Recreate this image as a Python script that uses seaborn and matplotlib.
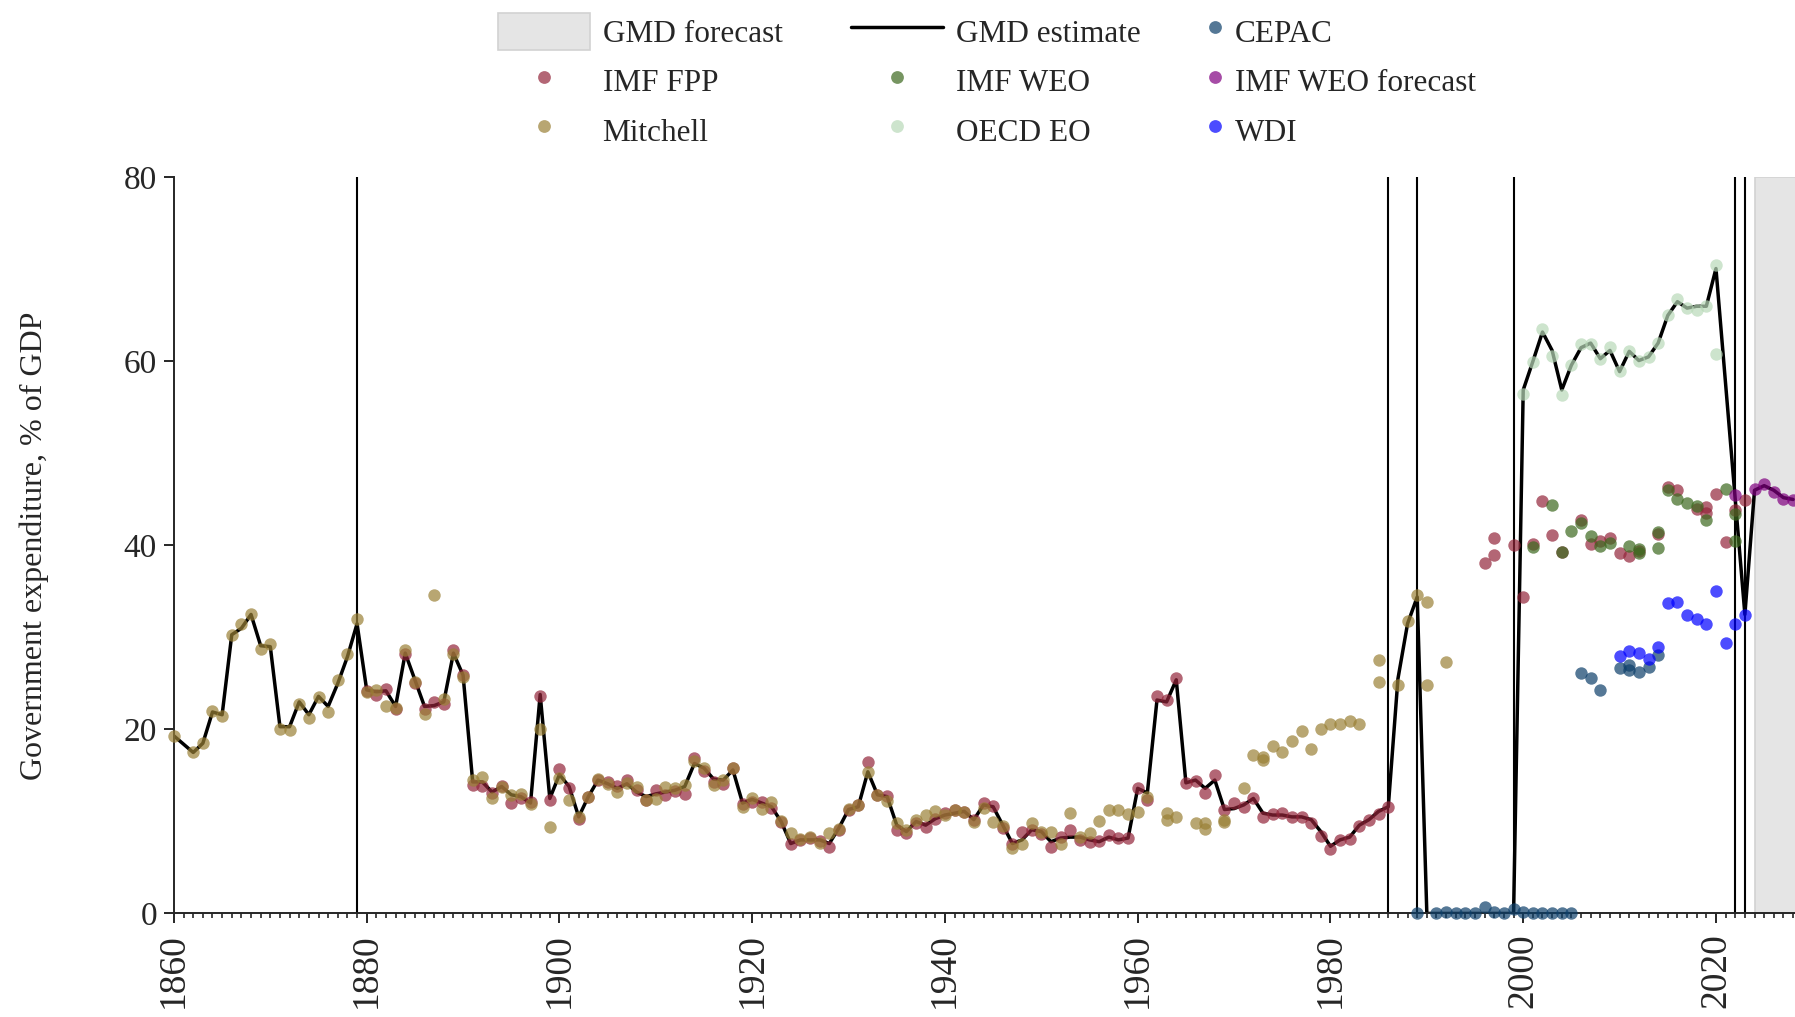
import numpy as np
import matplotlib
matplotlib.use("Agg")
import matplotlib.pyplot as plt
from matplotlib.patches import Patch
from matplotlib.lines import Line2D
from matplotlib.ticker import MultipleLocator
import seaborn as sns

# ---- data ----
gmd_years = list(range(1860, 2029))
gmd_values = [
    19.3, 18.4, 17.5, 18.5, 21.9, 21.6, 30.3, 31.0, 32.5, 29.1,   # 1860s
    29.0, 20.3, 20.3, 23.0, 21.6, 23.6, 22.5, 25.0, 27.9, 31.5,   # 1870s
    24.3, 24.1, 24.2, 22.5, 28.3, 25.4, 22.5, 22.6, 23.0, 28.3,   # 1880s
    25.9, 14.3, 14.3, 13.2, 13.8, 12.9, 12.7, 12.0, 23.8, 12.5,   # 1890s
    15.1, 13.8, 10.5, 12.7, 14.5, 14.1, 13.6, 14.1, 13.2, 12.7,   # 1900s
    13.0, 13.2, 13.4, 13.8, 16.3, 15.8, 14.6, 14.5, 15.6, 12.0,   # 1910s
    12.4, 12.0, 11.6, 10.0, 7.6, 8.0, 8.0, 8.0, 7.6, 9.3,         # 1920s
    11.3, 11.6, 15.4, 12.9, 12.7, 9.6, 8.9, 10.0, 9.6, 10.3,      # 1930s
    10.7, 10.9, 11.1, 10.2, 11.8, 11.6, 9.6, 7.6, 8.0, 9.1,       # 1940s
    8.9, 7.8, 8.2, 8.3, 8.3, 8.0, 7.8, 8.3, 8.0, 8.2,             # 1950s
    13.6, 13.1, 23.2, 23.0, 25.4, 14.2, 14.5, 13.6, 14.5, 11.3,   # 1960s
    11.4, 11.8, 12.5, 10.9, 10.7, 10.7, 10.5, 10.5, 10.2, 8.9,    # 1970s
    7.3, 8.0, 8.3, 9.6, 10.2, 11.1, 11.6, 25.5, 31.5, 34.4,       # 1980s
    0.0, 0.0, 0.0, 0.0, 0.0, 0.0, 0.0, 0.0, 0.0, 0.0,             # 1990s
    56.9, 60.0, 63.2, 61.2, 56.9, 59.6, 61.5, 62.0, 60.3, 61.2,   # 2000s
    58.9, 61.1, 60.1, 60.5, 62.0, 65.0, 66.5, 65.8, 66.0, 66.0,   # 2010s
    70.1, 57.5, 45.0, 32.5, 46.0, 46.5, 46.0, 45.2, 45.0,         # 2020s
]

cepac_years = [1989, 1991, 1992, 1993, 1994, 1995, 1996, 1997, 1998, 1999,
               2000, 2001, 2002, 2003, 2004, 2005,
               2006, 2007, 2008, 2010, 2011, 2011, 2012, 2013, 2014]
cepac_values = [0.0, 0.0, 0.2, 0.1, 0.0, 0.1, 0.7, 0.2, 0.0, 0.5,
                0.2, 0.0, 0.1, 0.0, 0.0, 0.0,
                26.1, 25.6, 24.3, 26.7, 27.0, 26.5, 26.2, 26.8, 28.1]

fpp_years = list(range(1880, 1987)) + [
    1996, 1997, 1997, 1999, 2000, 2001, 2002, 2003, 2004, 2006, 2007, 2008, 2009,
    2010, 2011, 2012, 2014, 2015, 2016, 2018, 2019, 2019, 2020, 2021, 2022, 2023]
fpp_values = [
    24.2, 23.8, 24.4, 22.2, 28.2, 25.1, 22.2, 23.0, 22.8, 28.6,   # 1880s
    25.9, 14.0, 13.9, 13.1, 13.9, 12.0, 12.6, 12.1, 23.6, 12.3,   # 1890s
    15.7, 13.6, 10.3, 12.7, 14.5, 14.3, 13.9, 14.5, 13.4, 12.3,   # 1900s
    13.4, 12.9, 13.3, 13.0, 16.9, 15.5, 14.3, 14.1, 15.8, 11.9,   # 1910s
    12.1, 12.1, 11.5, 9.9, 7.6, 8.0, 8.2, 7.9, 7.2, 9.1,          # 1920s
    11.2, 11.8, 16.5, 12.9, 12.8, 9.1, 8.7, 9.8, 9.4, 10.3,       # 1930s
    10.9, 11.2, 11.0, 10.2, 12.0, 11.7, 9.3, 7.5, 8.9, 9.1,       # 1940s
    8.6, 7.2, 8.3, 9.1, 8.0, 7.8, 7.9, 8.5, 8.2, 8.2,             # 1950s
    13.6, 12.3, 23.6, 23.2, 25.6, 14.2, 14.4, 13.1, 15.0, 11.2,   # 1960s
    12.0, 11.6, 12.5, 10.5, 10.8, 10.9, 10.5, 10.5, 9.8, 8.4,     # 1970s
    7.0, 8.0, 8.1, 9.5, 10.2, 10.8, 11.6,                         # 1980-86
    38.1, 40.8, 39.0, 40.1, 34.4, 40.2, 44.8, 41.1, 39.3, 42.8, 40.2, 40.5, 40.8,
    39.2, 38.9, 39.4, 41.2, 46.4, 46.0, 44.0, 44.2, 43.5, 45.6, 40.4, 43.9, 44.9]

weo_years = [2001, 2003, 2004, 2005, 2006, 2007, 2008, 2009, 2011, 2012, 2012,
             2014, 2014, 2015, 2016, 2017, 2018, 2019, 2021, 2022, 2022]
weo_values = [39.8, 44.4, 39.3, 41.6, 42.4, 41.0, 39.9, 40.3, 39.9, 39.6, 39.2,
              39.7, 41.5, 46.0, 45.0, 44.6, 44.3, 42.8, 46.1, 43.4, 40.5]

weo_fc_years = [2022, 2024, 2025, 2026, 2027, 2028]
weo_fc_values = [45.5, 46.1, 46.7, 45.8, 45.0, 44.9]

mitchell_years = (
    [1860] + list(range(1862, 1880)) + list(range(1880, 1962))
    + [1963, 1963, 1964, 1966, 1967, 1967, 1969, 1969, 1971, 1972, 1973, 1973,
       1974, 1975, 1976, 1977, 1978, 1979, 1980, 1981, 1982, 1983,
       1985, 1985, 1987, 1988, 1989, 1990, 1990, 1992])
mitchell_values = (
    [19.3, 17.5, 18.5, 22.0, 21.5, 30.3, 31.5, 32.6, 28.8, 29.3,
     20.1, 19.9, 22.8, 21.3, 23.5, 21.9, 25.4, 28.2, 32.0]
    + [24.1, 24.3, 22.6, 22.3, 28.6, 25.2, 21.7, 34.6, 23.3, 28.2,   # 1880s
       25.7, 14.5, 14.8, 12.5, 13.8, 12.9, 13.0, 11.9, 20.1, 9.4,    # 1890s
       14.7, 12.3, 10.5, 12.7, 14.6, 14.1, 13.2, 14.2, 13.8, 12.3,   # 1900s
       12.4, 13.8, 13.6, 14.0, 16.6, 15.8, 14.0, 14.5, 15.8, 11.6,   # 1910s
       12.6, 11.4, 12.1, 10.0, 8.7, 8.1, 8.3, 7.7, 8.7, 9.2,         # 1920s
       11.4, 11.8, 15.4, 12.9, 12.2, 9.8, 9.1, 10.2, 10.7, 11.1,     # 1930s
       10.7, 11.2, 11.0, 9.9, 11.5, 9.9, 9.5, 7.1, 7.6, 9.8,         # 1940s
       8.9, 8.9, 7.5, 10.9, 8.3, 8.7, 10.1, 11.3, 11.3, 10.8,        # 1950s
       11.0, 12.7]                                                   # 1960-61
    + [10.9, 10.2, 10.5, 9.8, 9.8, 9.2, 9.9, 10.2, 13.6, 17.2, 17.0, 16.7,
       18.2, 17.5, 18.7, 19.8, 17.9, 20.1, 20.6, 20.6, 20.9, 20.6,
       27.6, 25.2, 24.8, 31.8, 34.6, 33.9, 24.8, 27.3])

oecd_years = list(range(2000, 2021)) + [2020]
oecd_values = [56.5, 59.9, 63.5, 60.6, 56.4, 59.6, 61.9, 61.9, 60.3, 61.6, 59.0,
               61.1, 60.1, 60.5, 62.0, 65.0, 66.8, 65.8, 65.6, 66.0, 70.5, 60.8]

wdi_years = list(range(2010, 2024))
wdi_values = [28.0, 28.5, 28.3, 27.7, 29.0, 33.7, 33.9, 32.4, 32.0, 31.5,
              35.1, 29.4, 31.5, 32.4]

break_years = [1879, 1986, 1989, 1999, 2022, 2023]
forecast_start = 2024

# ---- style ----
sns.set_style("ticks")
plt.rcParams['font.family'] = ['Liberation Serif', 'DejaVu Serif']

sources = [
    ("CEPAC", cepac_years, cepac_values, "#0d3f6a"),
    ("IMF FPP", fpp_years, fpp_values, "#93253a"),
    ("IMF WEO", weo_years, weo_values, "#3c691e"),
    ("IMF WEO forecast", weo_fc_years, weo_fc_values, "#800080"),
    ("Mitchell", mitchell_years, mitchell_values, "#9a8036"),
    ("OECD EO", oecd_years, oecd_values, "#b8d9b8"),
    ("WDI", wdi_years, wdi_values, "#0000ff"),
]
ALPHA = 0.7

fig = plt.figure(figsize=(17.95, 10.17), dpi=100)
ax = fig.add_axes([0.0969, 0.1018, 0.9031, 0.7237])

ax.axvspan(forecast_start, 2031, facecolor="#e5e5e5", edgecolor="#d2d2d2",
           lw=1.2, zorder=0)
for yr in break_years:
    ax.axvline(yr, color="black", lw=1.5, zorder=1)

sns.lineplot(x=gmd_years, y=gmd_values, color="black", lw=2.5, ax=ax, zorder=2)

for name, yrs, vals, col in sources:
    sns.scatterplot(x=yrs, y=vals, color=col, alpha=ALPHA, s=80, linewidth=0,
                    ax=ax, zorder=3, clip_on=False)

ax.set_xlim(1860, 2028.2)
ax.set_ylim(0, 80)
ax.set_yticks([0, 20, 40, 60, 80])
ax.xaxis.set_major_locator(MultipleLocator(20))
ax.xaxis.set_minor_locator(MultipleLocator(1))
ax.tick_params(axis="x", which="major", length=7.2, width=1.4, labelsize=27,
               labelrotation=90, pad=7)
ax.tick_params(axis="x", which="minor", length=3.6, width=1.2)
ax.tick_params(axis="y", which="major", length=7.2, width=1.4, labelsize=24, pad=5)
sns.despine(ax=ax)
for sp in ("left", "bottom"):
    ax.spines[sp].set_linewidth(1.4)
ax.set_xlabel("")
ax.set_ylabel("Government expenditure, % of GDP", fontsize=23)
ax.yaxis.set_label_coords(-0.077, 0.5)

# ---- legend (three columns) ----
def dot(col):
    return Line2D([], [], linestyle="", marker="o", markersize=9.2,
                  markerfacecolor=col, markeredgewidth=0, alpha=ALPHA)

colors = {n: c for n, _, _, c in sources}
columns = [
    ([Patch(facecolor="#e5e5e5", edgecolor="#d2d2d2", lw=1.2), dot(colors["IMF FPP"]),
      dot(colors["Mitchell"])], ["GMD forecast", "IMF FPP", "Mitchell"], 0.2774, 2.95),
    ([Line2D([], [], color="black", lw=2.5), dot(colors["IMF WEO"]), dot(colors["OECD EO"])],
     ["GMD estimate", "IMF WEO", "OECD EO"], 0.4741, 2.95),
    ([dot(colors["CEPAC"]), dot(colors["IMF WEO forecast"]), dot(colors["WDI"])],
     ["CEPAC", "IMF WEO forecast", "WDI"], 0.6724, 0.5),
]
for handles, labels, xpos, hl in columns:
    leg = fig.legend(handles, labels, loc="upper left", bbox_to_anchor=(xpos, 0.9877),
                     frameon=False, fontsize=22.5, handlelength=hl, handleheight=1.48,
                     handletextpad=0.4, labelspacing=0.38, borderpad=0,
                     borderaxespad=0)

fig.savefig("out.png", dpi=100)
